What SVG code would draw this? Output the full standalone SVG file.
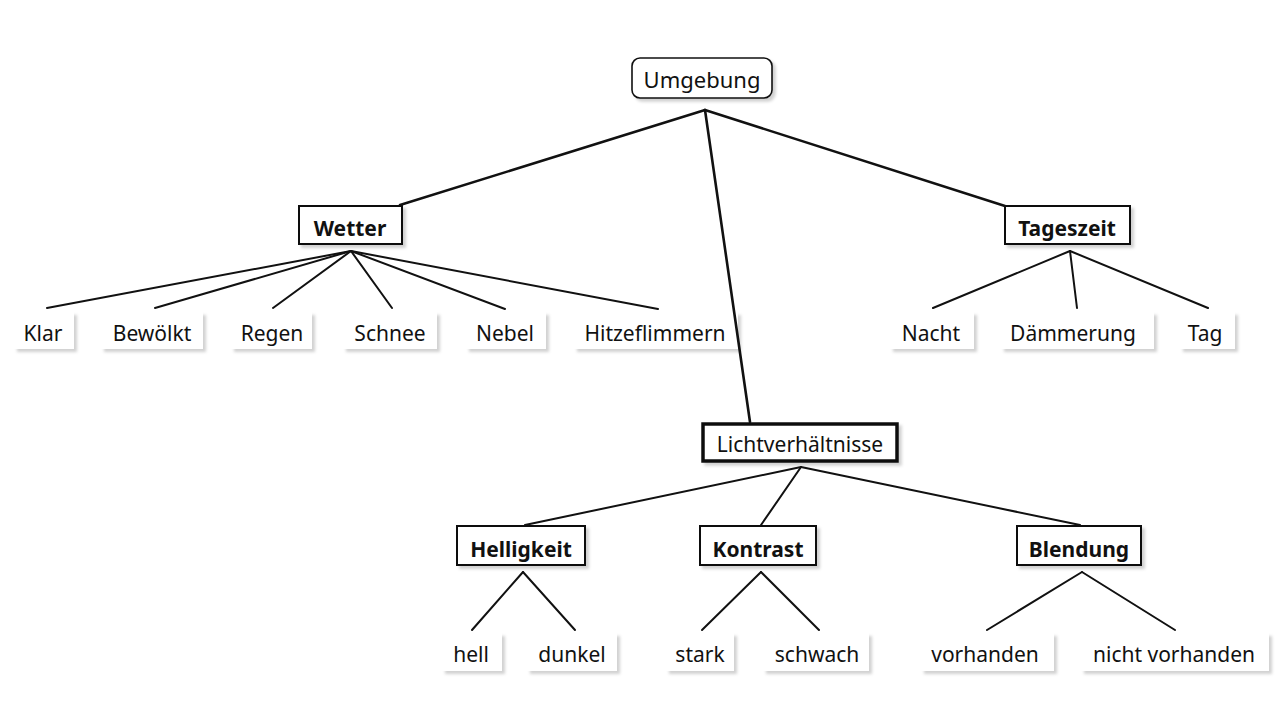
<svg xmlns="http://www.w3.org/2000/svg" width="1280" height="721" viewBox="0 0 1280 721">
<defs>
<filter id="sh" x="-10%" y="-20%" width="130%" height="150%">
<feDropShadow dx="3" dy="3" stdDeviation="1.5" flood-color="#000" flood-opacity="0.18"/>
</filter>
<style>
text{font-family:"Noto Sans","Liberation Sans",sans-serif;font-size:21px;fill:#111;text-anchor:middle}
.b{font-weight:bold}
.leaf rect{fill:#fff;filter:url(#sh)}
.box rect{fill:#fff;stroke:#111;stroke-width:2;filter:url(#sh)}
#connectors line{stroke:#111;stroke-width:2;stroke-linecap:round}
#connectors .t{stroke-width:2.6}
</style>
</defs>
<rect width="1280" height="721" fill="#fff"/>
<g id="umgebung" class="box"><rect x="632" y="58" width="140" height="40" rx="8" style="stroke-width:1.6"/><text x="702" y="88" style="font-size:22px">Umgebung</text></g>
<g id="wetter" class="box"><rect x="299" y="206" width="103" height="38"/><text class="b" x="350" y="236">Wetter</text></g>
<g id="tageszeit" class="box"><rect x="1005" y="206" width="125" height="38"/><text class="b" x="1067" y="236">Tageszeit</text></g>
<g id="lichtverhaeltnisse" class="box"><rect x="703" y="424" width="194" height="37" style="stroke-width:3.5"/><text x="800" y="452">Lichtverhältnisse</text></g>
<g id="helligkeit" class="box"><rect x="457" y="526" width="128" height="39"/><text class="b" x="521" y="557">Helligkeit</text></g>
<g id="kontrast" class="box"><rect x="700" y="526" width="116" height="39"/><text class="b" x="758" y="557">Kontrast</text></g>
<g id="blendung" class="box"><rect x="1017" y="526" width="124" height="39"/><text class="b" x="1079" y="557">Blendung</text></g>
<g id="klar" class="leaf"><rect x="14" y="312" width="60" height="37"/><text x="43" y="341">Klar</text></g>
<g id="bewoelkt" class="leaf"><rect x="101" y="312" width="102" height="37"/><text x="152" y="341">Bewölkt</text></g>
<g id="regen" class="leaf"><rect x="231" y="312" width="81" height="37"/><text x="272" y="341">Regen</text></g>
<g id="schnee" class="leaf"><rect x="343" y="312" width="94" height="37"/><text x="390" y="341">Schnee</text></g>
<g id="nebel" class="leaf"><rect x="466" y="312" width="80" height="37"/><text x="505" y="341">Nebel</text></g>
<g id="hitzeflimmern" class="leaf"><rect x="574" y="312" width="164" height="37"/><text x="655" y="341">Hitzeflimmern</text></g>
<g id="nacht" class="leaf"><rect x="890" y="312" width="84" height="37"/><text x="931" y="341">Nacht</text></g>
<g id="daemmerung" class="leaf"><rect x="1001" y="312" width="153" height="37"/><text x="1073" y="341">Dämmerung</text></g>
<g id="tag" class="leaf"><rect x="1180" y="312" width="55" height="37"/><text x="1205" y="341">Tag</text></g>
<g id="hell" class="leaf"><rect x="442" y="633" width="60" height="38"/><text x="471" y="662">hell</text></g>
<g id="dunkel" class="leaf"><rect x="527" y="633" width="90" height="38"/><text x="572" y="662">dunkel</text></g>
<g id="stark" class="leaf"><rect x="666" y="633" width="68" height="38"/><text x="700" y="662">stark</text></g>
<g id="schwach" class="leaf"><rect x="763" y="633" width="106" height="38"/><text x="817" y="662">schwach</text></g>
<g id="vorhanden" class="leaf"><rect x="921" y="633" width="133" height="38"/><text x="985" y="662">vorhanden</text></g>
<g id="nicht-vorhanden" class="leaf"><rect x="1081" y="633" width="188" height="38"/><text x="1174" y="662">nicht vorhanden</text></g>
<g id="connectors">
<line class="t" x1="705" y1="110" x2="400" y2="205"/>
<line class="t" x1="705" y1="110" x2="750" y2="422"/>
<line class="t" x1="705" y1="110" x2="1005" y2="206"/>
<line x1="351" y1="251" x2="47" y2="308"/>
<line x1="351" y1="251" x2="155" y2="308"/>
<line x1="351" y1="251" x2="273" y2="308"/>
<line x1="351" y1="251" x2="392" y2="308"/>
<line x1="351" y1="251" x2="505" y2="309"/>
<line x1="351" y1="251" x2="658" y2="309"/>
<line x1="1070" y1="251" x2="933" y2="308"/>
<line x1="1070" y1="251" x2="1077" y2="308"/>
<line x1="1070" y1="251" x2="1208" y2="308"/>
<line x1="801" y1="467" x2="525" y2="525"/>
<line x1="801" y1="467" x2="761" y2="525"/>
<line x1="801" y1="467" x2="1080" y2="525"/>
<line x1="523" y1="572" x2="472" y2="630"/>
<line x1="523" y1="572" x2="575" y2="630"/>
<line x1="761" y1="572" x2="702" y2="630"/>
<line x1="761" y1="572" x2="819" y2="630"/>
<line x1="1082" y1="572" x2="987" y2="630"/>
<line x1="1082" y1="572" x2="1175" y2="630"/>
</g>
</svg>
